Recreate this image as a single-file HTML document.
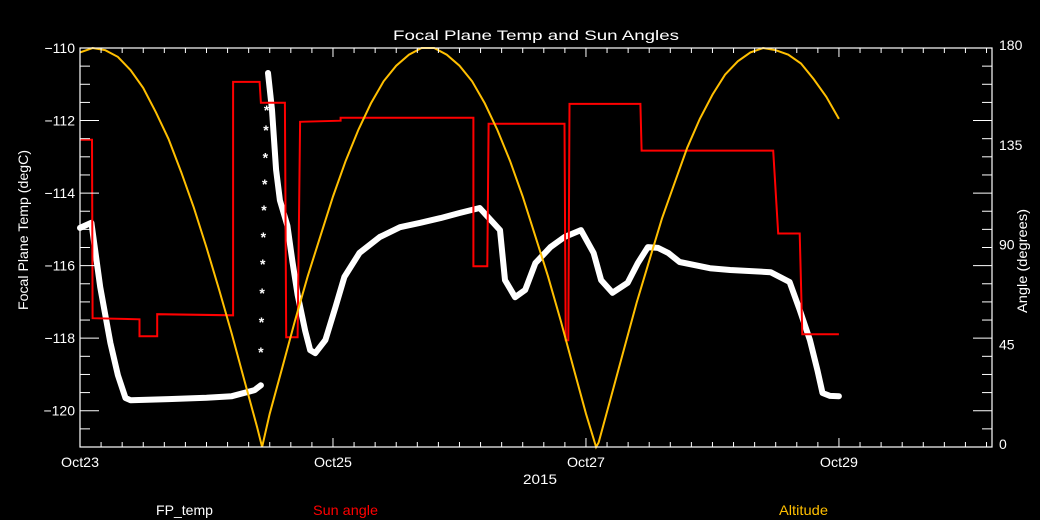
<!DOCTYPE html>
<html><head><meta charset="utf-8"><style>
html,body{margin:0;padding:0;background:#000;}
svg{display:block;}
text{font-family:"Liberation Sans",sans-serif;font-size:14px;}
</style></head><body>
<svg id="chart" width="1040" height="520" viewBox="0 0 1040 520">
<rect x="0" y="0" width="1040" height="520" fill="#000"/>
<g id="plot"></g>
<g id="axes"></g>
<text x="393" y="40" fill="#fff" textLength="286" lengthAdjust="spacingAndGlyphs">Focal Plane Temp and Sun Angles</text>
<text x="523" y="484" fill="#fff" textLength="34" lengthAdjust="spacingAndGlyphs">2015</text>
<text transform="translate(28,310) rotate(-90)" fill="#fff" font-size="13" textLength="160" lengthAdjust="spacingAndGlyphs">Focal Plane Temp (degC)</text>
<text transform="translate(1027,313) rotate(-90)" fill="#fff" font-size="13" textLength="104" lengthAdjust="spacingAndGlyphs">Angle (degrees)</text>
<text x="156" y="515" fill="#fff" textLength="57" lengthAdjust="spacingAndGlyphs">FP_temp</text>
<text x="313" y="515" fill="#ff0000" textLength="65" lengthAdjust="spacingAndGlyphs">Sun angle</text>
<text x="779" y="515" fill="#ffbf00" textLength="49" lengthAdjust="spacingAndGlyphs">Altitude</text>
</svg>
<script>
// ---- data (time in days since Oct23 00:00) ----
const xTickLabels = ["Oct23","Oct25","Oct27","Oct29"];
const xTickDays = [0,2,4,6];
const leftTickLabels = ["-110","-112","-114","-116","-118","-120"];
const rightTickLabels = ["180","135","90","45","0"];

const altTimes = [0,0.1,0.2,0.3,0.4,0.5,0.6,0.7,0.8,0.9,1.0,1.1,1.2,1.3,1.4,1.44,1.5,1.6,1.7,1.8,1.9,2.0,2.1,2.2,2.3,2.4,2.5,2.6,2.7,2.8,2.9,3.0,3.1,3.2,3.3,3.4,3.5,3.6,3.7,3.8,3.9,4.0,4.08,4.1,4.2,4.3,4.4,4.5,4.6,4.7,4.8,4.9,5.0,5.1,5.2,5.3,5.4,5.5,5.6,5.7,5.8,5.9,6.0];
const altValues = [178,180,179,176,170,162,151,139,124,108,90,71,51,30,9,0,15,36,57,77,95,113,129,143,155,165,172,177,180,180,177,172,165,155,143,129,113,95,77,57,36,15,0,2,23,44,65,84,103,119,135,148,159,168,174,178,180,179,177,173,166,158,148];

const sunTimes = [0,0.095,0.10,0.47,0.47,0.61,0.61,1.21,1.21,1.42,1.43,1.62,1.63,1.72,1.74,2.06,2.06,3.11,3.11,3.22,3.23,3.83,3.84,3.86,3.87,4.43,4.44,5.48,5.52,5.69,5.71,6.0];
const sunValues = [138.6,138.6,58.1,57.6,50,50,59.9,59.4,164.7,164.7,155.3,155.3,49.5,49.5,146.7,147.2,148.5,148.5,81.5,81.5,145.8,145.8,48.2,48.2,154.8,154.8,133.7,133.7,96.3,96.3,50.9,50.9];

const fpTimes = [0,0.09,0.16,0.24,0.30,0.36,0.40,0.7,1.0,1.2,1.38,1.43,1.486,1.518,1.55,1.58,1.64,1.68,1.72,1.78,1.82,1.86,1.94,2.02,2.09,2.21,2.37,2.53,2.69,2.85,3.00,3.16,3.32,3.36,3.44,3.52,3.60,3.72,3.83,3.96,4.06,4.12,4.21,4.33,4.41,4.49,4.57,4.65,4.74,4.98,5.14,5.46,5.61,5.69,5.77,5.83,5.87,5.93,6.0];
const fpTemps = [-114.96,-114.82,-116.59,-118.13,-119.02,-119.65,-119.71,-119.68,-119.64,-119.6,-119.43,-119.3,-110.69,-111.71,-113.36,-114.2,-114.9,-115.9,-116.8,-117.8,-118.33,-118.41,-118.05,-117.14,-116.31,-115.65,-115.21,-114.94,-114.82,-114.69,-114.55,-114.41,-115.02,-116.40,-116.87,-116.67,-115.93,-115.49,-115.21,-115.02,-115.65,-116.40,-116.75,-116.47,-115.93,-115.49,-115.51,-115.65,-115.90,-116.07,-116.12,-116.18,-116.45,-117.22,-118.05,-118.88,-119.51,-119.59,-119.6];

const starTimes = [1.44,1.445,1.45,1.455,1.46,1.465,1.47,1.475,1.48,1.485];
const starTemps = [-118.33,-117.50,-116.70,-115.90,-115.15,-114.41,-113.70,-112.96,-112.21,-111.66];

// ---- scales ----
const L=80,R=992,T=48,B=447;
const X0=0,X1=7.21;
function xs(t){return L+(t-X0)/(X1-X0)*(R-L);}
function yTemp(v){return T+(-110-v)/11*(B-T);}
function yAng(a){return B-a/180*(B-T);}

const NS="http://www.w3.org/2000/svg";
const plot=document.getElementById('plot');
const axes=document.getElementById('axes');
function mk(tag,attrs,parent){const e=document.createElementNS(NS,tag);for(const k in attrs)e.setAttribute(k,attrs[k]);parent.appendChild(e);return e;}

// FP temp thick band (breaks where the temperature jumps sharply)
let d='';
fpTimes.forEach((t,i)=>{
  const jump = i>0 && Math.abs(fpTemps[i]-fpTemps[i-1])>3;
  d+=((i===0||jump)?'M':'L')+xs(t).toFixed(1)+','+yTemp(fpTemps[i]).toFixed(1);
});
const fp=mk('path',{d:d,fill:'none',stroke:'#fff','stroke-width':6,'stroke-linejoin':'round','stroke-linecap':'round'},plot);


starTimes.forEach((t,i)=>{
  const s=mk('text',{x:xs(t)-4,y:yTemp(starTemps[i])+7,fill:'#fff','font-size':'16','font-weight':'bold'},plot);
  s.textContent='*';
  
  
});

// Sun angle
d='';
sunTimes.forEach((t,i)=>{d+=(i?'L':'M')+xs(t).toFixed(1)+','+yAng(sunValues[i]).toFixed(1);});
const sun=mk('path',{d:d,fill:'none',stroke:'#ff0000','stroke-width':2},plot);



// Altitude
d='';
altTimes.forEach((t,i)=>{d+=(i?'L':'M')+xs(t).toFixed(1)+','+yAng(altValues[i]).toFixed(1);});
const alt=mk('path',{d:d,fill:'none',stroke:'#ffbf00','stroke-width':2},plot);



// frame
const fr=mk('rect',{x:L,y:T,width:R-L,height:B-T,fill:'none',stroke:'#fff','stroke-width':1.2},axes);



// x ticks (every 4h)
for(let k=1;k*(1/6)<X1;k++){
  const t=k/6, x=xs(t), major=(k%12===0);
  const len=major?9:5;
  mk('line',{x1:x,y1:B,x2:x,y2:B-len,stroke:'#fff','stroke-width':1},axes);
  mk('line',{x1:x,y1:T,x2:x,y2:T+len,stroke:'#fff','stroke-width':1},axes);
}
xTickDays.forEach((dd,i)=>{
  const tx=mk('text',{x:xs(dd),y:467,fill:'#fff','text-anchor':'middle',textLength:38,lengthAdjust:'spacingAndGlyphs'},axes);
  tx.textContent=xTickLabels[i];
  
  
});
// y ticks (every 0.5 degC)
for(let k=1;k<22;k++){
  const v=-110-k*0.5, y=yTemp(v), major=(k%4===0);
  const len=major?19:10;
  mk('line',{x1:L,y1:y,x2:L+len,y2:y,stroke:'#fff','stroke-width':1},axes);
  mk('line',{x1:R,y1:y,x2:R-len,y2:y,stroke:'#fff','stroke-width':1},axes);
}
leftTickLabels.forEach((lab,i)=>{
  const tx=mk('text',{x:75,y:yTemp(parseFloat(lab))+5,fill:'#fff','text-anchor':'end'},axes);
  tx.textContent='\u2212'+lab.slice(1);
  
  
});
rightTickLabels.forEach((lab,i)=>{
  const tx=mk('text',{x:999,y:yAng(parseFloat(lab))+2,fill:'#fff'},axes);
  tx.textContent=lab;
  
  
});
</script>
</body></html>
